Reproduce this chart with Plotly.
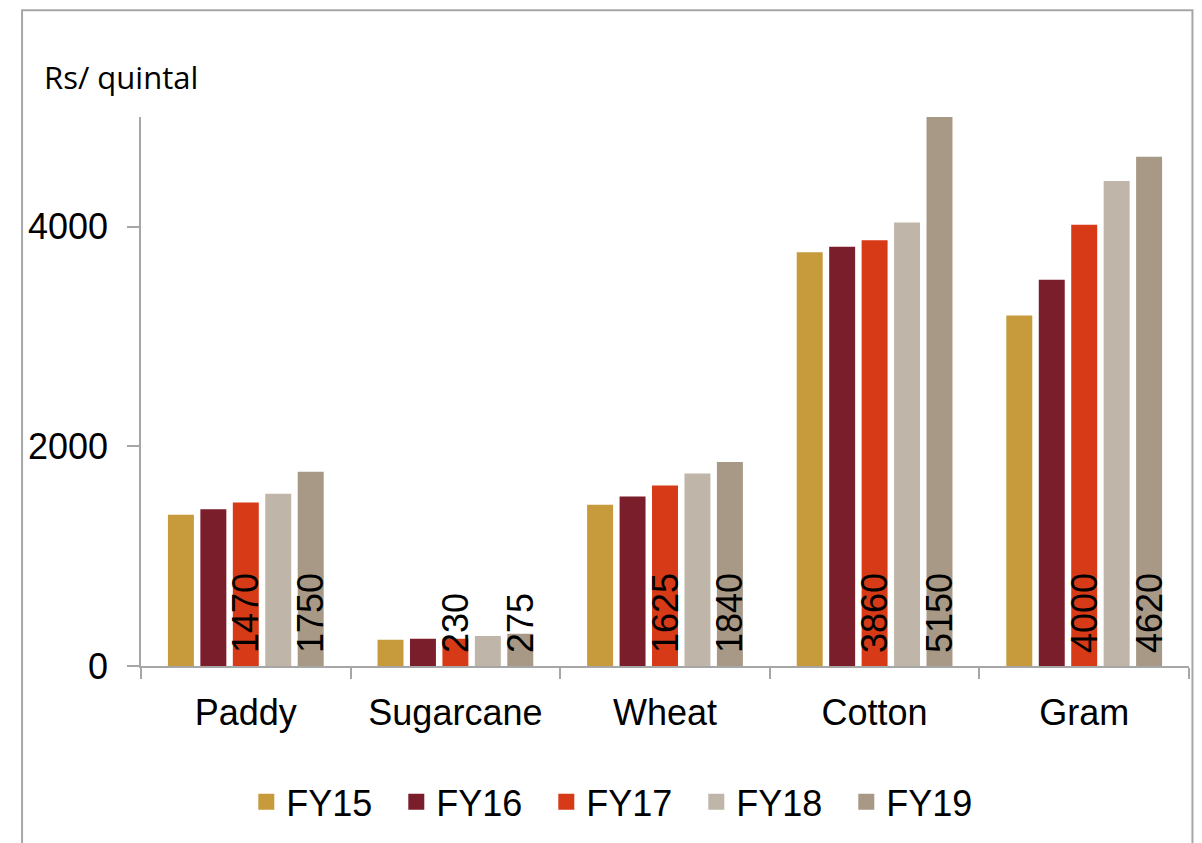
import plotly.graph_objects as go

crops = ["Paddy", "Sugarcane", "Wheat", "Cotton", "Gram"]
years = ["FY15", "FY16", "FY17", "FY18", "FY19"]

fy15 = [1360, 220, 1450, 3750, 3175]
fy16 = [1410, 230, 1525, 3800, 3500]
fy17 = [1470, 230, 1625, 3860, 4000]
fy18 = [1550, 255, 1735, 4020, 4400]
fy19 = [1750, 275, 1840, 5150, 4620]

# only FY17 and FY19 get value labels
labelled = {"FY17", "FY19"}

colors = ["#C79B3B", "#7B1E2B", "#D63A17", "#BFB6A9", "#A89886"]
series = [fy15, fy16, fy17, fy18, fy19]

fig = go.Figure()
for name, vals, col in zip(years, series, colors):
    txt = ["\u00a0" + str(v) for v in vals] if name in labelled else None
    fig.add_trace(go.Bar(
        x=crops, y=vals, name=name,
        marker=dict(color=col, line=dict(color=col, width=4)),
        text=txt, textposition="inside", insidetextanchor="start",
        textangle=-90, constraintext="none",
        textfont=dict(family="Liberation Sans, Arial", size=36, color="black"),
        hoverinfo="x+y+name",
    ))

axis_grey = "#A6A6A6"
# page body adds 8px, so the figure is drawn 8px smaller
fig.update_layout(
    width=1194, height=835,
    margin=dict(l=133, r=12.5, t=109, b=176),
    paper_bgcolor="white", plot_bgcolor="white",
    barmode="group", bargap=0.226, bargroupgap=0.323,
    font=dict(family="Liberation Sans, Arial", size=36, color="black"),
    showlegend=True,
    legend=dict(orientation="h", x=0.4583, xanchor="center", y=-0.245, yanchor="middle",
                font=dict(size=36), traceorder="normal", bgcolor="rgba(0,0,0,0)",
                entrywidth=105),
    xaxis=dict(showline=True, linecolor=axis_grey, linewidth=1.5,
               ticks="outside", tickson="boundaries", ticklen=11, tickcolor=axis_grey,
               tickwidth=1.5, showgrid=False, ticklabelstandoff=14),
    yaxis=dict(range=[0, 5000], tickvals=[0, 2000, 4000], showline=True,
               linecolor=axis_grey, linewidth=1.5, ticks="outside", ticklen=12,
               tickcolor=axis_grey, tickwidth=1.5, showgrid=False, zeroline=False,
               ticklabelstandoff=12),
    annotations=[dict(text="Rs/ quintal", xref="paper", yref="paper", x=-0.0944, y=1.073,
                      xanchor="left", yanchor="middle", showarrow=False,
                      font=dict(family="Open Sans", size=31, color="black"))],
    shapes=[dict(type="rect", xref="paper", yref="paper", x0=-0.1135, x1=1.0033,
                 y0=-0.4, y1=1.1945, line=dict(color=axis_grey, width=2),
                 fillcolor="rgba(0,0,0,0)", layer="below")],
)

fig.write_html("out.html")
